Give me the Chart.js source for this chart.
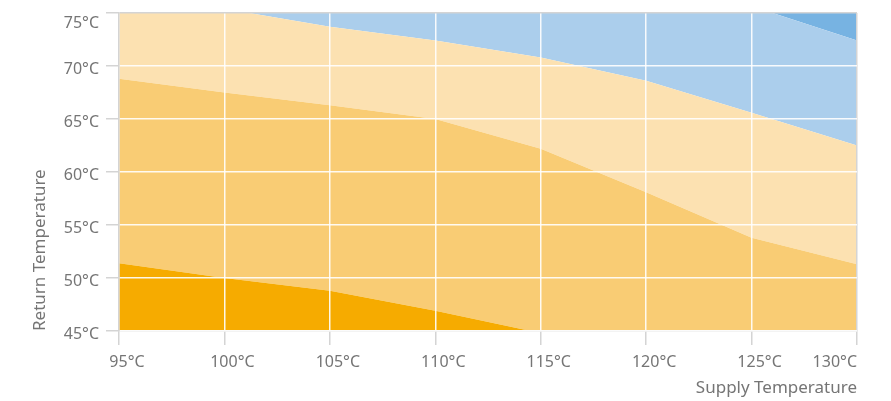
<!DOCTYPE html>
<html lang="en">
<head>
  <meta charset="UTF-8" />
  <title>Supply vs Return Temperature</title>
  <script src="https://cdn.jsdelivr.net/npm/chart.js"></script>
  <style>
    body { margin: 0; background: #fff; }
    #wrap { width: 891px; height: 401px; }
  </style>
</head>
<body>
  <div id="wrap"><canvas id="tempChart"></canvas></div>

  <script>
    // supply temperature (°C) along x
    const supply = [95, 100, 105, 110, 115, 120, 125, 130];
    // return temperature boundaries (°C) between the coloured zones
    const zoneA = [51.4, 50.0, 48.8, 46.9, 44.8, 44.8, 44.8, 44.8];
    const zoneB = [68.8, 67.5, 66.3, 65.0, 62.2, 58.1, 53.8, 51.3];
    const zoneC = [76.4, 75.4, 73.7, 72.4, 70.8, 68.6, 65.6, 62.5];
    const zoneD = [80, 80, 80, 80, 80, 80, 75.65, 72.4];
    const zoneColors = ["#f6ab00", "#f9cc74", "#fce1b1", "#abceec", "#77b3e2"];

    const xTicks = [95, 100, 105, 110, 115, 120, 125, 130];
    const yTicks = [45, 50, 55, 60, 65, 70, 75];

    const pts = arr => supply.map((x, i) => ({ x, y: arr[i] }));
    const FONT = "'Noto Sans', sans-serif";
    const GRAY = "#d4d4d4";
    const TEXT = "#757575";

    const tickLabels = {
      id: "tickLabels",
      afterDraw(chart) {
        const { ctx, chartArea, scales } = chart;
        ctx.save();
        ctx.fillStyle = TEXT;
        ctx.font = "16px " + FONT;
        ctx.textBaseline = "middle";
        xTicks.forEach((v, i) => {
          const px = scales.x.getPixelForValue(v);
          const last = i === xTicks.length - 1;
          ctx.textAlign = last ? "right" : "center";
          ctx.fillText(v + "°C", last ? px : px + 8, 362);
        });
        ctx.textAlign = "right";
        yTicks.forEach(v => {
          const py = scales.y.getPixelForValue(v);
          ctx.fillText(v + "°C", 99, Math.max(py + 3, chartArea.top + 10));
        });
        ctx.restore();
      }
    };

    const ds = (arr, color, fill) => ({
      data: pts(arr), backgroundColor: color, fill,
      borderWidth: 0, pointRadius: 0, tension: 0
    });

    new Chart(document.getElementById("tempChart"), {
      type: "line",
      data: {
        datasets: [
          ds(zoneA, zoneColors[0], "start"),
          ds(zoneB, zoneColors[1], "-1"),
          ds(zoneC, zoneColors[2], "-1"),
          ds(zoneD, zoneColors[3], "-1"),
          ds(zoneD, zoneColors[4], "end")
        ]
      },
      options: {
        responsive: true,
        maintainAspectRatio: false,
        animation: false,
        layout: { padding: { top: 13, right: 34, left: 0, bottom: 0 } },
        plugins: { legend: { display: false }, tooltip: { enabled: false } },
        scales: {
          x: {
            type: "linear", min: 95, max: 130,
            afterFit: s => { s.height = 70; },
            ticks: { display: false, stepSize: 5 },
            grid: {
              z: 1, lineWidth: 1.5, tickLength: 14, tickWidth: 1.5, tickColor: GRAY,
              color: c => c.index === xTicks.length - 1 ? GRAY : "rgba(255,255,255,0.9)"
            },
            border: { z: 1, color: GRAY, width: 1.5 },
            title: {
              display: true, text: "Supply Temperature", align: "end", color: TEXT,
              font: { family: FONT, size: 17 }, padding: { top: 0, bottom: 3 }
            }
          },
          y: {
            min: 45, max: 75,
            afterFit: s => { s.width = 119; },
            ticks: { display: false, stepSize: 5 },
            grid: {
              z: 1, lineWidth: 1.5, tickLength: 13, tickWidth: 1.5, tickColor: GRAY,
              color: c => c.tick && c.tick.value === 75 ? GRAY : "rgba(255,255,255,0.9)"
            },
            border: { z: 1, color: GRAY, width: 1.5 },
            title: {
              display: true, text: "Return Temperature", align: "start", color: TEXT,
              font: { family: FONT, size: 17 }, padding: { top: 30, bottom: 0 }
            }
          }
        }
      },
      plugins: [tickLabels]
    });
  </script>
</body>
</html>
